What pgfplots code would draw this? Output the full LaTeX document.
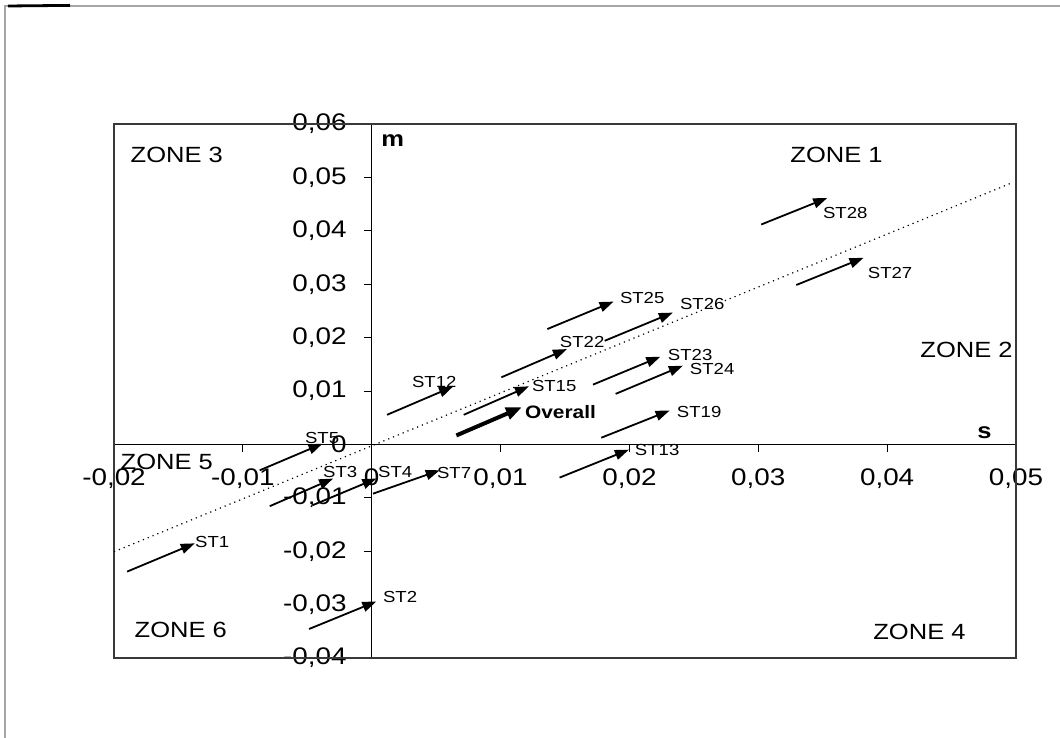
\documentclass[border=0pt]{standalone}
\usepackage{fontspec}
\setmainfont[FakeStretch=1.16]{Liberation Sans}
\usepackage{pgfplots}
\pgfplotsset{compat=1.18}
\usetikzlibrary{arrows.meta}
\tikzset{
  arr/.style={black, line width=0.9pt, -{Triangle[length=7pt,width=5pt]}},
  lab/.style={anchor=west, inner sep=0pt, font=\fontsize{8}{9.6}\selectfont},
  zone/.style={inner sep=0pt, font=\fontsize{11}{13}\selectfont},
}
\begin{document}
\begin{tikzpicture}
\useasboundingbox (0,0) rectangle (530pt,369pt);
\draw[gray!70, line width=0.6pt] (2.5pt,0) -- (2.5pt,366pt) -- (530pt,366pt);
\draw[black, line width=1.4pt] (4pt,366pt) -- (35pt,366.3pt);
\begin{axis}[
  at={(57pt,40pt)}, anchor=south west,
  scale only axis, width=451pt, height=267pt,
  xmin=-0.02, xmax=0.05, ymin=-0.04, ymax=0.06,
  scaled ticks=false,
  axis lines=middle, axis line style={-, black, line width=0.6pt},
  xtick={-0.02,-0.01,0,0.01,0.02,0.03,0.04,0.05},
  xticklabels={{-0,02},{-0,01},{0},{0,01},{0,02},{0,03},{0,04},{0,05}},
  ytick={-0.04,-0.03,-0.02,-0.01,0,0.01,0.02,0.03,0.04,0.05,0.06},
  yticklabels={{-0,04},{-0,03},{-0,02},{-0,01},{0},{0,01},{0,02},{0,03},{0,04},{0,05},{0,06}},
  tick align=outside, major tick length=4pt,
  tick style={black, line width=0.4pt},
  hide obscured x ticks=false, hide obscured y ticks=false,
  ticklabel style={font=\fontsize{12}{14}\selectfont},
  xticklabel style={yshift=-4.5pt},
  yticklabel style={xshift=-5pt},
  clip=false,
]
\draw[gray!45!black, line width=1pt] (rel axis cs:0,0) rectangle (rel axis cs:1,1);
\addplot[black, dotted, line width=0.6pt] coordinates {(-0.02,-0.0201) (0.0496,0.0489)};

\addplot[arr] coordinates {(-0.01898,-0.02382) (-0.01373,-0.01853)};
\addplot[arr] coordinates {(-0.00486,-0.03457) (0.00036,-0.02942)};
\addplot[arr] coordinates {(-0.00791,-0.01157) (-0.00300,-0.00640)};
\addplot[arr] coordinates {(-0.00458,-0.01138) (0.00036,-0.00640)};
\addplot[arr] coordinates {(-0.00869,-0.00485) (-0.00382,0.00013)};
\addplot[arr] coordinates {(0.00010,-0.00923) (0.00528,-0.00485)};
\addplot[arr] coordinates {(0.00119,0.00554) (0.00631,0.01082)};
\addplot[arr] coordinates {(0.01458,-0.00622) (0.01996,-0.00099)};
\addplot[arr] coordinates {(0.00714,0.00554) (0.01220,0.01088)};
\addplot[arr] coordinates {(0.01782,0.00125) (0.02312,0.00634)};
\addplot[arr] coordinates {(0.01006,0.01256) (0.01515,0.01785)};
\addplot[arr] coordinates {(0.01717,0.01119) (0.02240,0.01642)};
\addplot[arr] coordinates {(0.01893,0.00946) (0.02415,0.01474)};
\addplot[arr] coordinates {(0.01363,0.02160) (0.01877,0.02674)};
\addplot[arr] coordinates {(0.01808,0.01940) (0.02337,0.02468)};
\addplot[arr] coordinates {(0.03295,0.02985) (0.03817,0.03494)};
\addplot[arr] coordinates {(0.03023,0.04118) (0.03535,0.04614)};
\addplot[black, line width=2pt, -{Triangle[length=8pt,width=6pt]}] coordinates {(0.00657,0.00168) (0.01166,0.00696)};

\node[lab] at (axis cs:-0.01373,-0.01828) {ST1};
\node[lab] at (axis cs:0.00085,-0.02854) {ST2};
\node[lab] at (axis cs:-0.0038,-0.00517) {ST3};
\node[lab] at (axis cs:0.00047,-0.00517) {ST4};
\node[lab] at (axis cs:-0.0052,0.00112) {ST5};
\node[lab] at (axis cs:0.00504,-0.00541) {ST7};
\node[lab] at (axis cs:0.0031,0.01162) {ST12};
\node[lab] at (axis cs:0.0204,-0.00112) {ST13};
\node[lab] at (axis cs:0.01241,0.0110) {ST15};
\node[lab] at (axis cs:0.02366,0.00603) {ST19};
\node[lab] at (axis cs:0.01458,0.01909) {ST22};
\node[lab] at (axis cs:0.02296,0.01679) {ST23};
\node[lab] at (axis cs:0.02467,0.01418) {ST24};
\node[lab] at (axis cs:0.01924,0.02748) {ST25};
\node[lab] at (axis cs:0.0239,0.0263) {ST26};
\node[lab] at (axis cs:0.03848,0.03215) {ST27};
\node[lab] at (axis cs:0.035,0.04334) {ST28};
\node[lab, font=\fontsize{9}{10}\selectfont\bfseries] at (axis cs:0.01187,0.00603) {Overall};

\node[zone] at (axis cs:-0.01513,0.0543) {ZONE 3};
\node[zone] at (axis cs:0.03607,0.0543) {ZONE 1};
\node[zone] at (axis cs:0.04616,0.01772) {ZONE 2};
\node[zone] at (axis cs:-0.0159,-0.00336) {ZONE 5};
\node[zone] at (axis cs:-0.01482,-0.0347) {ZONE 6};
\node[zone] at (axis cs:0.04251,-0.03507) {ZONE 4};
\node[inner sep=0pt, font=\fontsize{11}{12}\selectfont\bfseries] at (axis cs:0.00163,0.0569) {m};
\node[inner sep=0pt, font=\fontsize{11}{12}\selectfont\bfseries] at (axis cs:0.04756,0.00224) {s};
\end{axis}
\end{tikzpicture}
\end{document}
